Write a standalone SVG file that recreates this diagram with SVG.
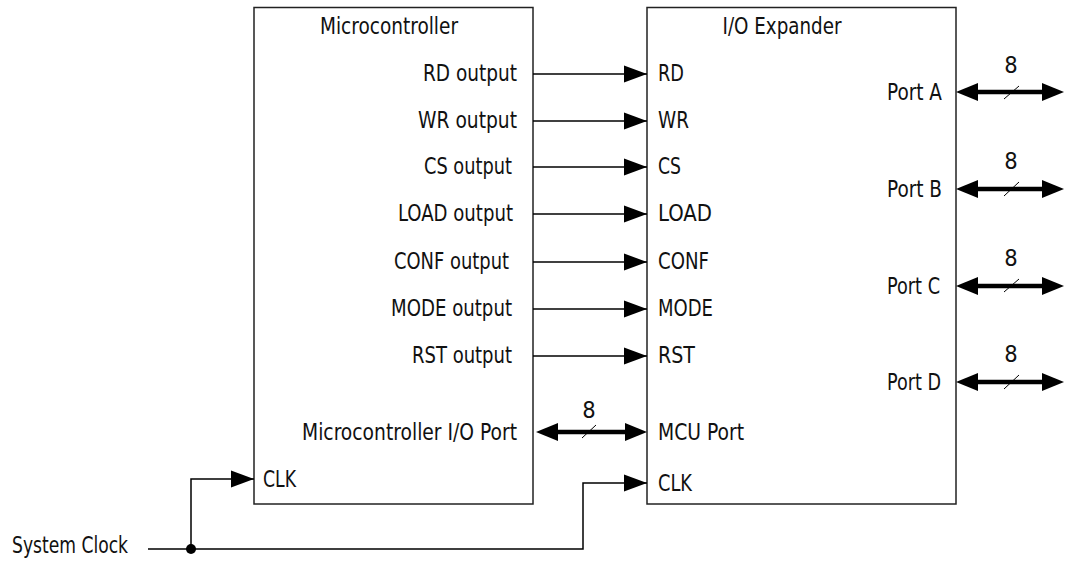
<svg xmlns="http://www.w3.org/2000/svg" width="1065" height="561" viewBox="0 0 1065 561">
<style>
text{font-family:"Liberation Sans Narrow","DejaVu Sans Condensed","Liberation Sans",sans-serif;font-size:23.5px;fill:#111}
.box{fill:#fff;stroke:#222;stroke-width:1.5}
.w{stroke:#000;stroke-width:1.5;fill:none}
.bus{stroke:#000;stroke-width:4.5;fill:none}
.sl{stroke:#000;stroke-width:1;fill:none}
.e{text-anchor:end}
.m{text-anchor:middle}
</style>
<defs>
<marker id="ah" markerUnits="userSpaceOnUse" markerWidth="24" markerHeight="18" refX="23" refY="8.5" orient="auto" overflow="visible"><path d="M0,0 L23,8.5 L0,17 z" fill="#000"/></marker>
<marker id="bh" markerUnits="userSpaceOnUse" markerWidth="24" markerHeight="18" refX="0" refY="9" orient="auto-start-reverse" overflow="visible"><path d="M0,0 L22,9 L0,18 z" fill="#000"/></marker>
</defs>
<g id="microcontroller">
<rect class="box" x="254" y="7.5" width="279" height="496.5"/>
<text x="389" y="34" class="m" textLength="138" lengthAdjust="spacingAndGlyphs">Microcontroller</text>
<text x="517" y="81" class="e" textLength="94" lengthAdjust="spacingAndGlyphs">RD output</text>
<text x="517" y="128" class="e" textLength="99" lengthAdjust="spacingAndGlyphs">WR output</text>
<text x="512" y="174" class="e" textLength="88" lengthAdjust="spacingAndGlyphs">CS output</text>
<text x="513" y="221" class="e" textLength="115" lengthAdjust="spacingAndGlyphs">LOAD output</text>
<text x="509" y="269" class="e" textLength="115" lengthAdjust="spacingAndGlyphs">CONF output</text>
<text x="512" y="316" class="e" textLength="121" lengthAdjust="spacingAndGlyphs">MODE output</text>
<text x="512" y="363" class="e" textLength="100" lengthAdjust="spacingAndGlyphs">RST output</text>
<text x="517" y="440" class="e" textLength="215" lengthAdjust="spacingAndGlyphs">Microcontroller I/O Port</text>
<text x="263" y="487" textLength="33" lengthAdjust="spacingAndGlyphs">CLK</text>
</g>
<g id="io-expander">
<rect class="box" x="647" y="7.5" width="309" height="496.5"/>
<text x="782" y="34" class="m" textLength="119" lengthAdjust="spacingAndGlyphs">I/O Expander</text>
<text x="658" y="81" textLength="26" lengthAdjust="spacingAndGlyphs">RD</text>
<text x="658" y="128" textLength="31" lengthAdjust="spacingAndGlyphs">WR</text>
<text x="658" y="174" textLength="23" lengthAdjust="spacingAndGlyphs">CS</text>
<text x="658" y="221" textLength="54" lengthAdjust="spacingAndGlyphs">LOAD</text>
<text x="658" y="269" textLength="51" lengthAdjust="spacingAndGlyphs">CONF</text>
<text x="658" y="316" textLength="55" lengthAdjust="spacingAndGlyphs">MODE</text>
<text x="658" y="363" textLength="37" lengthAdjust="spacingAndGlyphs">RST</text>
<text x="658" y="440" textLength="86" lengthAdjust="spacingAndGlyphs">MCU Port</text>
<text x="658" y="491" textLength="34" lengthAdjust="spacingAndGlyphs">CLK</text>
<text x="942" y="100" class="e" textLength="55" lengthAdjust="spacingAndGlyphs">Port A</text>
<text x="942" y="197" class="e" textLength="55" lengthAdjust="spacingAndGlyphs">Port B</text>
<text x="940" y="294" class="e" textLength="53" lengthAdjust="spacingAndGlyphs">Port C</text>
<text x="941" y="390" class="e" textLength="54" lengthAdjust="spacingAndGlyphs">Port D</text>
</g>
<g id="system-clock">
<text x="12" y="553" textLength="116" lengthAdjust="spacingAndGlyphs">System Clock</text>
</g>
<g id="connectors">
<line class="w" x1="533" y1="74" x2="647" y2="74" marker-end="url(#ah)"/>
<line class="w" x1="533" y1="121" x2="647" y2="121" marker-end="url(#ah)"/>
<line class="w" x1="533" y1="167" x2="647" y2="167" marker-end="url(#ah)"/>
<line class="w" x1="533" y1="214" x2="647" y2="214" marker-end="url(#ah)"/>
<line class="w" x1="533" y1="262" x2="647" y2="262" marker-end="url(#ah)"/>
<line class="w" x1="533" y1="309" x2="647" y2="309" marker-end="url(#ah)"/>
<line class="w" x1="533" y1="356" x2="647" y2="356" marker-end="url(#ah)"/>
<line class="bus" x1="558" y1="432" x2="625" y2="432" marker-start="url(#bh)" marker-end="url(#bh)"/>
<line class="sl" x1="582" y1="438" x2="596" y2="425"/>
<text x="589" y="418" class="m">8</text>
<g id="port-buses">
<line class="bus" x1="978" y1="92" x2="1042" y2="92" marker-start="url(#bh)" marker-end="url(#bh)"/>
<line class="sl" x1="1004" y1="99" x2="1019" y2="86"/>
<text x="1011" y="73" class="m">8</text>
<line class="bus" x1="978" y1="189" x2="1042" y2="189" marker-start="url(#bh)" marker-end="url(#bh)"/>
<line class="sl" x1="1004" y1="196" x2="1019" y2="182"/>
<text x="1011" y="169" class="m">8</text>
<line class="bus" x1="978" y1="286" x2="1042" y2="286" marker-start="url(#bh)" marker-end="url(#bh)"/>
<line class="sl" x1="1004" y1="292" x2="1019" y2="279"/>
<text x="1011" y="266" class="m">8</text>
<line class="bus" x1="978" y1="382" x2="1042" y2="382" marker-start="url(#bh)" marker-end="url(#bh)"/>
<line class="sl" x1="1004" y1="389" x2="1019" y2="375"/>
<text x="1011" y="362" class="m">8</text>
</g>
<path class="w" d="M148,549 H583 V483 H647" marker-end="url(#ah)"/>
<path class="w" d="M191,549 V479 H254" marker-end="url(#ah)"/>
<circle cx="191" cy="549" r="5" fill="#000"/>
</g>
</svg>
